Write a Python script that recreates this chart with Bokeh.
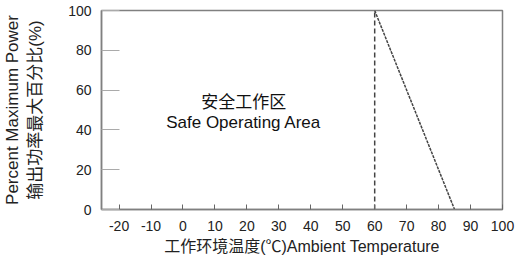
from bokeh.plotting import figure
from bokeh.models import Range1d, FixedTicker, Label
from bokeh.embed import file_html
from bokeh.resources import INLINE

# data
derate_temp = [60, 85]
derate_power = [100, 0]
limit_temp = [60, 60]
limit_power = [0, 100]
x_ticks = [-20, -10, 0, 10, 20, 30, 40, 50, 60, 70, 80, 90, 100]
y_ticks = [0, 20, 40, 60, 80, 100]
area_cn = "安全工作区"
area_en = "Safe Operating Area"
x_title = "工作环境温度(℃)Ambient Temperature"
y_title = "Percent Maximum Power\n输出功率最大百分比(%)"

FONT = "Liberation Sans, Noto Sans CJK SC"

p = figure(width=515, height=259, output_backend="svg", toolbar_location=None,
           x_range=Range1d(-25.5, 100), y_range=Range1d(0, 100),
           min_border_left=97, min_border_right=13, min_border_top=10, min_border_bottom=50)
p.grid.visible = False
p.outline_line_color = "#808080"
p.outline_line_width = 1.5
p.background_fill_color = "white"
p.border_fill_color = "white"

p.line(limit_temp, limit_power, line_color="#444444", line_width=1.5, line_dash="5 3")
p.line(derate_temp, derate_power, line_color="#444444", line_width=1.5, line_dash="3 1")

p.add_layout(Label(x=19, y=54, text=area_cn, text_align="center", text_baseline="middle",
                   text_font=FONT, text_font_size="17px", text_color="#111111"))
p.add_layout(Label(x=19, y=43.5, text=area_en, text_align="center", text_baseline="middle",
                   text_font=FONT, text_font_size="17px", text_color="#111111"))

xa = p.xaxis[0]
xa.ticker = FixedTicker(ticks=x_ticks)
xa.major_label_overrides = {t: str(t) for t in x_ticks}
xa.major_tick_in = 5
xa.major_tick_out = 0
xa.minor_tick_in = 0
xa.minor_tick_out = 0
xa.major_label_standoff = 11
xa.axis_line_color = "#808080"
xa.axis_line_width = 1.5
xa.major_tick_line_color = "#666666"
xa.major_label_text_font = FONT
xa.major_label_text_font_size = "14px"
xa.major_label_text_color = "#222222"
xa.axis_label = x_title
xa.axis_label_text_font = FONT
xa.axis_label_text_font_size = "16px"
xa.axis_label_text_font_style = "normal"
xa.axis_label_text_color = "#222222"
xa.axis_label_standoff = 4

ya = p.yaxis[0]
ya.ticker = FixedTicker(ticks=y_ticks)
ya.major_label_overrides = {t: str(t) for t in y_ticks}
ya.major_tick_in = 18
ya.major_tick_out = 0
ya.minor_tick_in = 0
ya.minor_tick_out = 0
ya.major_label_standoff = 10
ya.axis_line_color = "#808080"
ya.axis_line_width = 1.5
ya.major_tick_line_color = "#aaaaaa"
ya.major_label_text_font = FONT
ya.major_label_text_font_size = "14px"
ya.major_label_text_color = "#222222"
ya.axis_label = y_title
ya.axis_label_text_font = FONT
ya.axis_label_text_font_size = "17px"
ya.axis_label_text_font_style = "normal"
ya.axis_label_text_color = "#222222"
ya.axis_label_standoff = 20

open("out.html", "w").write(file_html(p, INLINE))
